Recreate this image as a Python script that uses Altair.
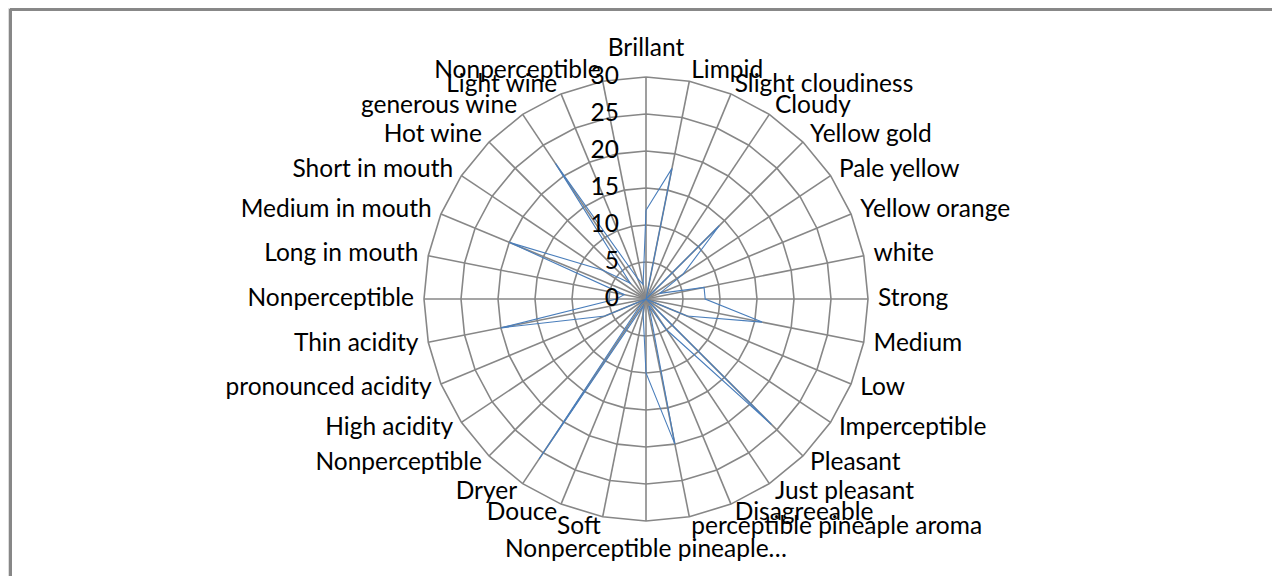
import altair as alt
import pandas as pd

categories = [
    "Brillant", "Limpid", "Slight cloudiness", "Cloudy", "Yellow gold", "Pale yellow",
    "Yellow orange", "white", "Strong", "Medium", "Low", "Imperceptible", "Pleasant",
    "Just pleasant", "Disagreeable", "perceptible pineaple aroma", "Nonperceptible pineaple…",
    "Soft", "Douce", "Dryer", "Nonperceptible", "High acidity", "pronounced acidity",
    "Thin acidity", "Nonperceptible", "Long in  mouth", "Medium in  mouth", "Short in  mouth",
    "Hot wine", "generous wine", "Light wine", "Nonperceptible",
]
values = [12, 18, 0, 0, 14, 6, 2, 8, 8, 16, 6, 0, 24, 5, 1, 20, 10, 2, 1, 26, 1, 0, 6, 20,
          4, 3, 20, 7, 3, 22, 3, 2]
ring_levels = [5, 10, 15, 20, 25, 30]
tick_values = [0, 5, 10, 15, 20, 25, 30]
tick_labels = ["0", "5", "10", "15", "20", "25", "30"]

N = len(categories)
RMAX = 30
PX = 7.4                # pixels per unit
W, H = 1264, 568
CX, CY = 638, 291       # centre inside plot area
FONT = "Lato"
FS = 24.5

xdom = [-CX / PX, (W - CX) / PX]
ydom = [(CY - H) / PX, CY / PX]
xs = alt.Scale(domain=xdom, nice=False, zero=False)
ys = alt.Scale(domain=ydom, nice=False, zero=False)

ANG = f"datum.idx * 2 * PI / {N}"

series_df = pd.DataFrame({"idx": list(range(N)) + [N], "value": values + [values[0]]})
grid_df = pd.DataFrame([{"ring": r, "idx": i} for r in ring_levels for i in range(N + 1)])
spoke_df = pd.DataFrame({"idx": list(range(N)), "r": [RMAX] * N})
label_df = pd.DataFrame({"idx": list(range(N)), "label": categories})
tick_df = pd.DataFrame({"v": tick_values, "label": tick_labels})

GRID = "#878787"

grid = alt.Chart(grid_df).transform_calculate(
    a=ANG, x=f"datum.ring * sin({ANG})", y=f"datum.ring * cos({ANG})"
).mark_line(color=GRID, strokeWidth=1.6).encode(
    x=alt.X("x:Q", scale=xs, axis=None),
    y=alt.Y("y:Q", scale=ys, axis=None),
    detail="ring:N",
    order="idx:Q",
)

spokes = alt.Chart(spoke_df).transform_calculate(
    x=f"datum.r * sin({ANG})", y=f"datum.r * cos({ANG})", x0="0", y0="0"
).mark_rule(color=GRID, strokeWidth=1.6).encode(
    x=alt.X("x0:Q", scale=xs, axis=None),
    y=alt.Y("y0:Q", scale=ys, axis=None),
    x2="x:Q",
    y2="y:Q",
)

series = alt.Chart(series_df).transform_calculate(
    x=f"datum.value * sin({ANG})", y=f"datum.value * cos({ANG})"
).mark_line(color="#4a7ebb", strokeWidth=1.1).encode(
    x=alt.X("x:Q", scale=xs, axis=None),
    y=alt.Y("y:Q", scale=ys, axis=None),
    order="idx:Q",
)

RL = RMAX + 10 / PX
lab_base = alt.Chart(label_df).transform_calculate(
    s=f"sin({ANG})", c=f"cos({ANG})",
    x=f"{RL} * sin({ANG})", y=f"{RL} * cos({ANG})",
)
enc = dict(
    x=alt.X("x:Q", scale=xs, axis=None),
    y=alt.Y("y:Q", scale=ys, axis=None),
    text="label:N",
)
lab_right = lab_base.transform_filter("datum.s > 0.01").mark_text(
    align="left", baseline="middle", font=FONT, fontSize=FS, color="black"
).encode(**enc)
lab_left = lab_base.transform_filter("datum.s < -0.01").mark_text(
    align="right", baseline="middle", font=FONT, fontSize=FS, color="black"
).encode(**enc)
lab_top = lab_base.transform_filter("abs(datum.s) <= 0.01 && datum.c > 0").mark_text(
    align="center", baseline="middle", dy=-18, font=FONT, fontSize=FS, color="black"
).encode(**enc)
lab_bot = lab_base.transform_filter("abs(datum.s) <= 0.01 && datum.c < 0").mark_text(
    align="center", baseline="middle", dy=19, font=FONT, fontSize=FS, color="black"
).encode(**enc)

ticks = alt.Chart(tick_df).transform_calculate(
    x=f"{-27 / PX}"
).mark_text(align="right", baseline="middle", font=FONT, fontSize=FS, color="black").encode(
    x=alt.X("x:Q", scale=xs, axis=None),
    y=alt.Y("v:Q", scale=ys, axis=None),
    text="label:N",
)

border_top = alt.Chart(tick_df).mark_rule(color=GRID, strokeWidth=2.2).encode(
    x=alt.value(2), x2=alt.value(W), y=alt.value(1.5)
)
border_left = alt.Chart(tick_df).mark_rule(color=GRID, strokeWidth=2.5).encode(
    x=alt.value(2.5), y=alt.value(1), y2=alt.value(H)
)

chart = alt.layer(
    border_top, border_left, grid, spokes, series, ticks,
    lab_right, lab_left, lab_top, lab_bot,
).properties(
    width=W, height=H, padding=0, autosize="none"
).configure_view(stroke=None).configure(background="white")

chart.save("out.html", embed_options={"renderer": "svg", "actions": False})
